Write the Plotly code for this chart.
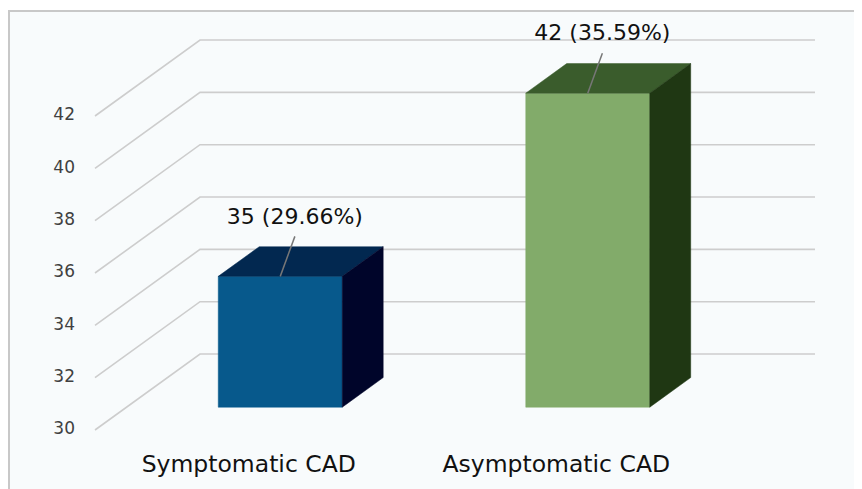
import plotly.graph_objects as go

# ---- data ----
categories = ["Symptomatic CAD", "Asymptomatic CAD"]
counts = [35, 42]
percents = [29.66, 35.59]
tick_values = [30, 32, 34, 36, 38, 40, 42]

# ---- style ----
front_colors = ["#07598C", "#82AB6A"]
top_colors = ["#022850", "#3A5C2C"]
side_colors = ["#00052A", "#1F3713"]
grid_color = "#CDCDCD"
FONT = "DejaVu Sans"

BASE = 30                # floor value of the value axis
DX, DY = 0.3415, 2.904   # full-depth offset (x in category units, y in value units)
D0, D1 = 0.30, 0.69      # bar front/back depth fractions
HALF = 0.2016            # half bar width (category units)

fig = go.Figure()

# back-wall / side-wall gridlines
for v in tick_values:
    fig.add_trace(go.Scatter(
        x=[-0.5, -0.5 + DX, len(categories) - 0.5 + DX],
        y=[v, v + DY, v + DY],
        mode="lines", line=dict(color=grid_color, width=1.6),
        hoverinfo="skip", showlegend=False))

def poly(xs, ys, color):
    fig.add_trace(go.Scatter(
        x=xs + [xs[0]], y=ys + [ys[0]], mode="lines", fill="toself",
        fillcolor=color, line=dict(color=color, width=0.5),
        hoverinfo="skip", showlegend=False))

for i, v in enumerate(counts):
    xl, xr = i - HALF, i + HALF
    # front face
    poly([xl + D0 * DX, xr + D0 * DX, xr + D0 * DX, xl + D0 * DX],
         [BASE + D0 * DY, BASE + D0 * DY, v + D0 * DY, v + D0 * DY], front_colors[i])
    # top face
    poly([xl + D0 * DX, xr + D0 * DX, xr + D1 * DX, xl + D1 * DX],
         [v + D0 * DY, v + D0 * DY, v + D1 * DY, v + D1 * DY], top_colors[i])
    # side face
    poly([xr + D0 * DX, xr + D1 * DX, xr + D1 * DX, xr + D0 * DX],
         [BASE + D0 * DY, BASE + D1 * DY, v + D1 * DY, v + D0 * DY], side_colors[i])

    # leader line + data label
    lx = i + 0.15
    fig.add_trace(go.Scatter(
        x=[lx, i + D0 * DX], y=[v + 2.4, v + D0 * DY], mode="lines",
        line=dict(color="#777777", width=1.5), hoverinfo="skip", showlegend=False))
    fig.add_trace(go.Scatter(
        x=[lx], y=[v + 3.1], mode="text",
        text=[f"{v} ({percents[i]:.2f}%)"], textposition="middle center",
        textfont=dict(family=FONT, size=22, color="#111111"),
        hoverinfo="skip", showlegend=False))

# value-axis tick labels
fig.add_trace(go.Scatter(
    x=[-0.565] * len(tick_values), y=tick_values, mode="text",
    text=[str(t) for t in tick_values], textposition="middle left",
    textfont=dict(family=FONT, size=17, color="#404040"),
    hoverinfo="skip", showlegend=False))

# category labels
fig.add_trace(go.Scatter(
    x=list(range(len(categories))), y=[BASE - 1.38] * len(categories), mode="text",
    text=categories, textposition="middle center",
    textfont=dict(family=FONT, size=23.5, color="#111111"),
    hoverinfo="skip", showlegend=False))

# chart frame
fig.add_shape(type="rect", xref="paper", yref="paper",
              x0=1 / 862, x1=1.02, y0=-0.02, y1=1 - 3 / 489,
              line=dict(color="#C8C8C8", width=2), fillcolor="#F8FBFC", layer="below")

# page has an 8px body margin, ranges account for it
fig.update_layout(
    width=862, height=489,
    margin=dict(l=0, r=0, t=0, b=0),
    paper_bgcolor="#FFFFFF", plot_bgcolor="rgba(0,0,0,0)",
    showlegend=False,
    xaxis=dict(range=[-0.5 - 87 / 307.5, -0.5 + 775 / 307.5], visible=False, fixedrange=True),
    yaxis=dict(range=[30 - 67 / 26.1667, 30 + 422 / 26.1667], visible=False, fixedrange=True),
)

fig.write_html("out.html")
